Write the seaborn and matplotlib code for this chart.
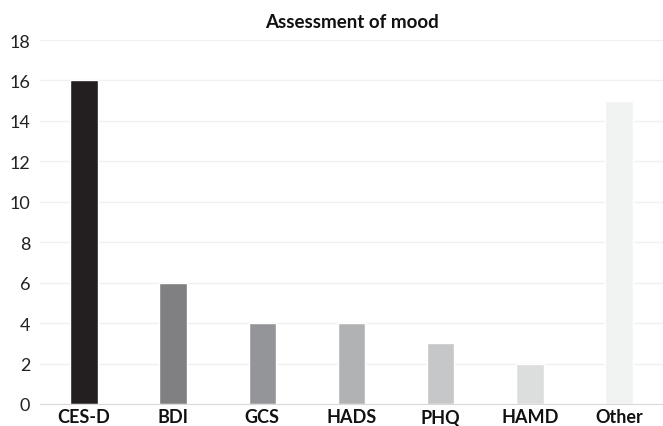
import matplotlib
matplotlib.use("Agg")
import matplotlib.pyplot as plt
import seaborn as sns
import pandas as pd

categories = ["CES-D", "BDI", "GCS", "HADS", "PHQ", "HAMD", "Other"]
values = [16, 6, 4, 4, 3, 2, 15]
colors = ["#231f20", "#808083", "#939598", "#b1b2b4", "#c6c7c8", "#dcdddd", "#f1f2f2"]
yticks = [0, 2, 4, 6, 8, 10, 12, 14, 16, 18]

sns.set_style("white")
plt.rcParams['font.family'] = ['Lato', 'DejaVu Sans']

df = pd.DataFrame({"cat": categories, "val": values})
L = 40
fig = plt.figure(figsize=(6.63, 4.27), dpi=100)
ax = fig.add_axes([L/663, 1 - 405/427, (663-L)/663, (405-41)/427])
sns.barplot(data=df, x="cat", y="val", hue="cat", palette=colors, legend=False,
            width=0.31, ax=ax, saturation=1)
ax.set_xlim(-(84-L)/89.2, 6 + (663-619)/89.2)
ax.set_ylim(0, 18)
ax.set_yticks(yticks)
ax.yaxis.grid(True, color="#f0f0f0", linewidth=1)
ax.set_axisbelow(True)
for s in ["top", "right", "left"]:
    ax.spines[s].set_visible(False)
ax.spines["bottom"].set_color("#d9d9d9")
ax.tick_params(axis="y", length=0, labelsize=13, pad=7, colors="#222222")
ax.tick_params(axis="x", length=0, labelsize=13, pad=3, colors="#111111")
for lbl in ax.get_xticklabels():
    lbl.set_fontweight("bold")
ax.set_xlabel("")
ax.set_ylabel("")
fig.text(0.531, 1 - 22/427, "Assessment of mood", ha="center", va="center",
         fontsize=13.5, fontweight="bold", color="#111111")
fig.savefig("out.png", dpi=100)
